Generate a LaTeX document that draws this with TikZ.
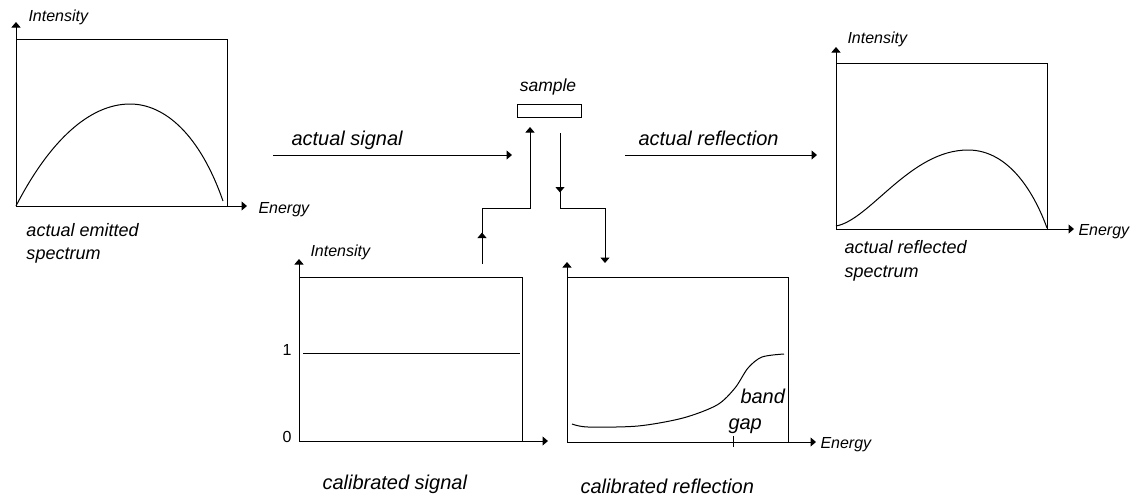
\documentclass[tikz,border=0pt]{standalone}
\usepackage{fontspec}
\setmainfont{Liberation Sans}
\usetikzlibrary{arrows.meta,decorations.markings}

\tikzset{
  tipstyle/.tip={Triangle[length=5.5pt,width=9pt]},
  axis/.style={-tipstyle},
  flow/.style={-tipstyle},
  frame/.style={draw},
  curve/.style={draw},
  midarrow/.style={postaction={decorate},
    decoration={markings, mark=at position #1 with {\arrow{tipstyle}}}},
  lbl/.style={inner sep=0pt, anchor=base west, font=\fontsize{16}{19}\selectfont\itshape},
  num/.style={inner sep=0pt, anchor=base west, font=\fontsize{16}{19}\selectfont},
  caption/.style={inner sep=0pt, anchor=base west, font=\fontsize{18}{22}\selectfont\itshape},
  big/.style={inner sep=0pt, anchor=base west, font=\fontsize{20}{24}\selectfont\itshape},
  samplebox/.style={draw, minimum width=64pt, minimum height=13pt, inner sep=0pt},
}

\begin{document}
\begin{tikzpicture}[x=1pt, y=-1pt, line width=1pt]
\useasboundingbox (0,0) rectangle (1135,499);

% ---------- emitted spectrum ----------
\draw[axis] (16,206) -- (16,22);
\draw[axis] (16,206) -- (247,206);
\draw[frame] (16,39) rectangle (227,206);
\draw[curve] (16,206) .. controls (50,140) and (90,104) .. (130,104)
             .. controls (165,104) and (200,135) .. (223,201);
\node[lbl] (intA) at (28,21) {Intensity};
\node[lbl] (enA) at (258,213) {Energy};
\node[caption] (capA1) at (26,236) {actual emitted};
\node[caption] (capA2) at (26,259) {spectrum};

% ---------- sample ----------
\node[samplebox] (sample) at (549,110.5) {};
\node[inner sep=0pt, anchor=base, font=\fontsize{17.5}{21}\selectfont\itshape] (sampleLbl) at (548,91) {sample};

% incoming and outgoing beams
\coordinate (sigStart) at (273,155);
\coordinate (sigEnd) at (512,155);
\draw[flow] (sigStart) -- (sigEnd);
\node[big] (sigLbl) at (291,145) {actual signal};

\coordinate (refStart) at (625,155);
\coordinate (refEnd) at (817,155);
\draw[flow] (refStart) -- (refEnd);
\node[big] (refLbl) at (638,145) {actual reflection};

% ---------- reflected spectrum ----------
\draw[axis] (836,229) -- (836,47);
\draw[axis] (836,229) -- (1074,229);
\draw[frame] (836,63) rectangle (1047,229);
\draw[curve] (836,226) .. controls (870,220) and (910,150) .. (968,150)
             .. controls (1010,150) and (1035,195) .. (1047,228);
\node[lbl] (intB) at (847,43) {Intensity};
\node[lbl] (enB) at (1078,235) {Energy};
\node[caption] (capB1) at (844,253) {actual reflected};
\node[caption] (capB2) at (844,277) {spectrum};

% ---------- calibrated signal ----------
\draw[axis] (299,441) -- (299,259);
\draw[axis] (299,441) -- (548,441);
\draw[frame] (299,277) rectangle (522,441);
\draw[curve] (303,353) -- (520,353);
\node[lbl] (intC) at (310,256) {Intensity};
\node[num] (one) at (282,355) {1};
\node[num] (zero) at (282,442) {0};
\node[big] (capC) at (322,489) {calibrated signal};

% ---------- calibrated reflection ----------
\draw[axis] (567,442) -- (567,262);
\draw[axis] (567,442) -- (816,442);
\draw[frame] (567,277) rectangle (788,442);
\draw[curve] plot[smooth] coordinates {(572,424) (588,427) (638,426) (683,418)
  (717,405) (735,388) (748,368) (762,357) (784,354)};
\draw (733,436) -- (733,447);
\node[lbl] (enD) at (820,448) {Energy};
\node[big] (bandLbl) at (740,403) {band};
\node[big] (gapLbl) at (728,429) {gap};
\node[big] (capD) at (580,493) {calibrated reflection};

% ---------- routing to and from the sample ----------
\coordinate (upStart) at (482,264);
\coordinate (upEnd) at (530,127);
\draw[flow, midarrow=0.17] (upStart) -- (482,208) -- (530,208) -- (upEnd);

\coordinate (downStart) at (560,133);
\coordinate (downEnd) at (605,263);
\draw[flow, midarrow=0.34] (downStart) -- (560,208) -- (605,208) -- (downEnd);

\end{tikzpicture}
\end{document}
